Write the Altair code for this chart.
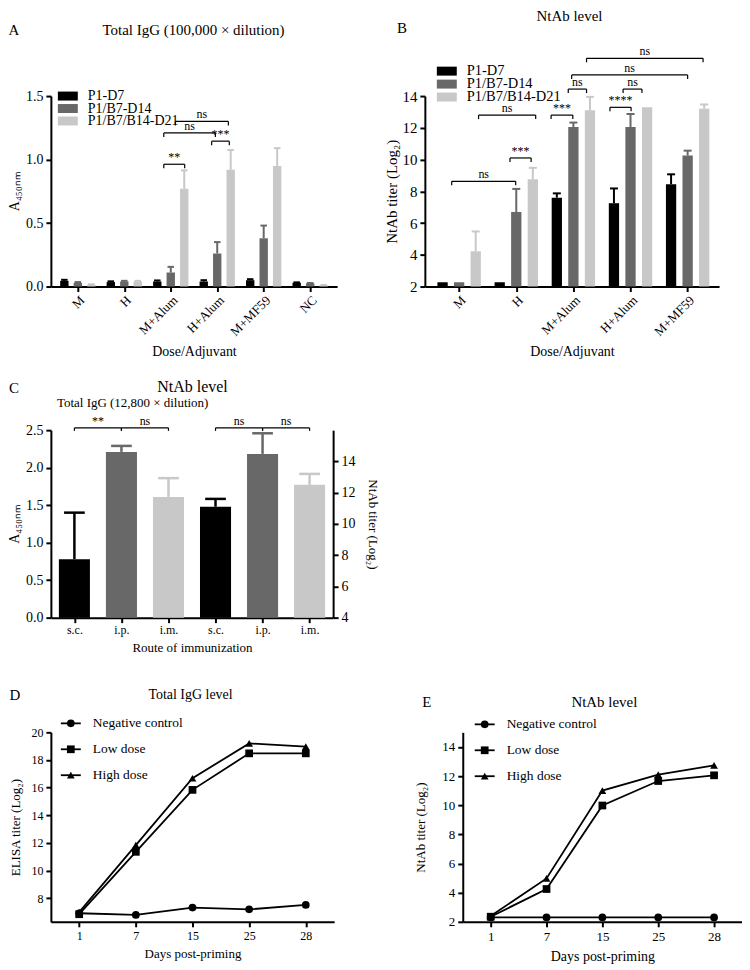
import json
import altair as alt
import pandas as pd

FONT = "Liberation Serif"
BLACK, DARK, LIGHT = "#000000", "#686868", "#c8c8c8"

# ---------------- data ----------------
series_names = ["P1-D7", "P1/B7-D14", "P1/B7/B14-D21"]
series_colors = [BLACK, DARK, LIGHT]

# Panel A: Total IgG (100,000 x dilution), A450nm
a_groups = ["M", "H", "M+Alum", "H+Alum", "M+MF59", "NC"]
a_d7 = [0.045, 0.035, 0.04, 0.04, 0.05, 0.03]
a_d7_err = [0.008, 0.006, 0.008, 0.01, 0.008, 0.003]
a_d14 = [0.03, 0.04, 0.11, 0.26, 0.38, 0.025]
a_d14_err = [0.005, 0.005, 0.045, 0.09, 0.10, 0.003]
a_d21 = [0.015, 0.04, 0.77, 0.92, 0.95, 0.01]
a_d21_err = [0.003, 0.005, 0.145, 0.155, 0.14, 0.002]
a_sig_x1 = [1.85, 2.88, 1.85, 2.10]
a_sig_x2 = [2.30, 3.26, 2.96, 3.24]
a_sig_y = [0.963, 1.145, 1.21, 1.30]
a_sig_lab = ["**", "***", "ns", "ns"]

# Panel B: NtAb level (Log2)
b_groups = ["M", "H", "M+Alum", "H+Alum", "M+MF59"]
b_d7 = [2.27, 2.27, 7.6, 7.25, 8.45]
b_d7_err = [0, 0, 0.27, 0.93, 0.62]
b_d14 = [2.27, 6.7, 12.05, 12.05, 10.25]
b_d14_err = [0, 1.45, 0.28, 0.82, 0.31]
b_d21 = [4.22, 8.76, 13.1, 13.3, 13.2]
b_d21_err = [1.25, 0.72, 0.85, 0, 0.27]
b_sig_x1 = [-0.13, 0.34, 0.89, 1.61, 1.91, 1.97, 2.23, 2.64, 2.87]
b_sig_x2 = [0.99, 1.34, 1.26, 1.99, 2.23, 4.0, 4.27, 3.01, 3.2]
b_sig_y = [8.63, 12.8, 10.1, 12.8, 14.44, 15.33, 16.38, 13.29, 14.44]
b_sig_lab = ["ns", "ns", "***", "***", "ns", "ns", "ns", "****", "ns"]

# Panel C: route of immunization
c_routes = ["s.c.", "i.p.", "i.m."]
c_igg = [0.78, 2.21, 1.61]
c_igg_err = [0.62, 0.08, 0.25]
c_ntab = [11.1, 14.48, 12.5]
c_ntab_err = [0.5, 1.32, 0.7]
c_sig_x1 = [0, 1, 3, 4]
c_sig_x2 = [1, 2, 4, 5]
c_sig_y = [2.53, 2.53, 2.53, 2.53]
c_sig_lab = ["**", "ns", "ns", "ns"]

# Panels D / E: time course
days = ["1", "7", "15", "25", "28"]
line_names = ["Negative control", "Low dose", "High dose"]
line_shapes = ["circle", "square", "triangle-up"]
d_nc = [6.92, 6.8, 7.33, 7.2, 7.52]
d_low = [6.85, 11.36, 15.84, 18.48, 18.48]
d_high = [7.0, 11.84, 16.68, 19.2, 18.96]
e_nc = [2.3, 2.3, 2.3, 2.3, 2.3]
e_low = [2.35, 4.25, 9.98, 11.66, 12.05]
e_high = [2.4, 4.98, 11.0, 12.1, 12.73]

OFF, HALF, CAP = 0.29, 0.09, 0.07


def ax(**kw):
    base = dict(domainColor="black", domainWidth=2, tickColor="black", tickWidth=2,
                tickSize=5, labelFont=FONT, titleFont=FONT, labelColor="black",
                titleColor="black", grid=False, titleFontWeight="normal")
    base.update(kw)
    return alt.Axis(**base)


def txt(s, x, y, size, align="center"):
    return alt.Chart(pd.DataFrame({"t": [s]})).mark_text(
        font=FONT, fontSize=size, align=align, baseline="middle", color="black"
    ).encode(text="t:N", x=alt.value(x), y=alt.value(y))


def brackets(x1, x2, y, lab, xs, ys, xa, ya, drop=4, size=12):
    df = pd.DataFrame({"x1": x1, "x2": x2, "y": y, "lab": lab})
    df["xm"] = (df["x1"] + df["x2"]) / 2
    X = lambda f: alt.X(f + ":Q", scale=xs, axis=xa)
    Y = alt.Y("y:Q", scale=ys, axis=ya)
    base = alt.Chart(df)
    h = base.mark_rule(color="black", strokeWidth=1.2).encode(x=X("x1"), x2="x2:Q", y=Y)
    l = base.mark_rule(color="black", strokeWidth=1.2, y2Offset=drop).encode(x=X("x1"), y=Y, y2="y:Q")
    r = base.mark_rule(color="black", strokeWidth=1.2, y2Offset=drop).encode(x=X("x2"), y=Y, y2="y:Q")
    t = base.mark_text(font=FONT, fontSize=size, dy=-7, color="black").encode(x=X("xm"), y=Y, text="lab:N")
    return [h, l, r, t]


def bar_layers(df, xs, ys, xaxis, yaxis):
    col = alt.Color("series:N", scale=alt.Scale(domain=series_names, range=series_colors), legend=None)
    bars = alt.Chart(df).mark_bar().encode(
        x=alt.X("xl:Q", scale=xs, axis=xaxis), x2="xr:Q",
        y=alt.Y("v:Q", scale=ys, axis=yaxis), y2="base:Q", color=col)
    e = df[df["e"] > 0]
    err = alt.Chart(e).mark_rule(strokeWidth=2).encode(
        x=alt.X("xc:Q", scale=xs, axis=xaxis), y=alt.Y("v:Q", scale=ys, axis=yaxis), y2="top:Q", color=col)
    cap = alt.Chart(e).mark_rule(strokeWidth=2).encode(
        x=alt.X("cl:Q", scale=xs, axis=xaxis), x2="cr:Q", y=alt.Y("top:Q", scale=ys, axis=yaxis), color=col)
    return [bars, err, cap]


def grouped_df(groups, vals, errs, base):
    rows = []
    for s in range(3):
        for g in range(len(groups)):
            xc = g + (s - 1) * OFF
            rows.append(dict(series=series_names[s], v=vals[s][g], e=errs[s][g],
                             top=vals[s][g] + errs[s][g], xc=xc, xl=xc - HALF, xr=xc + HALF,
                             cl=xc - CAP, cr=xc + CAP, base=base))
    return pd.DataFrame(rows)


def bar_legend(x0, ys_px, size):
    out = []
    for name, c, yy in zip(series_names, series_colors, ys_px):
        out.append(alt.Chart(pd.DataFrame({"n": [name]})).mark_rect(color=c).encode(
            x=alt.value(x0), x2=alt.value(x0 + 20), y=alt.value(yy - 4.5), y2=alt.value(yy + 4.5)))
        out.append(txt(name, x0 + 30, yy, size, align="left"))
    return out


def label_expr(labels):
    return json.dumps(labels) + "[datum.value]"


# ---------------- Panel A ----------------
WA, HA = 287, 191
dfA = grouped_df(a_groups, [a_d7, a_d14, a_d21], [a_d7_err, a_d14_err, a_d21_err], 0)
xsA = alt.Scale(domain=[-0.58, 5.58], nice=False, zero=False)
ysA = alt.Scale(domain=[0, 1.5], nice=False, zero=False)
xaxA = ax(values=list(range(len(a_groups))), labelExpr=label_expr(a_groups), labelAngle=-45,
          labelFontSize=13, title="Dose/Adjuvant", titleFontSize=14, titlePadding=6)
yaxA = ax(values=[0, 0.5, 1.0, 1.5], format=".1f", labelFontSize=14, title="A₄₅₀ₙₘ",
          titleFontSize=14, labelPadding=3)
panelA = alt.layer(
    *bar_layers(dfA, xsA, ysA, xaxA, yaxA),
    *brackets(a_sig_x1, a_sig_x2, a_sig_y, a_sig_lab, xsA, ysA, xaxA, yaxA, drop=4, size=12),
    *bar_legend(7, [0, 12.5, 25], 14),
    txt("A", -37, -66, 15),
    txt("Total  IgG (100,000 × dilution)", 143, -66, 15),
).properties(width=WA, height=HA)

# ---------------- Panel B ----------------
WB, HB = 295, 191
dfB = grouped_df(b_groups, [b_d7, b_d14, b_d21], [b_d7_err, b_d14_err, b_d21_err], 2)
xsB = alt.Scale(domain=[-0.6, 4.55], nice=False, zero=False)
ysB = alt.Scale(domain=[2, 14], nice=False, zero=False)
xaxB = ax(values=list(range(len(b_groups))), labelExpr=label_expr(b_groups), labelAngle=-45,
          labelFontSize=13, title="Dose/Adjuvant", titleFontSize=14, titlePadding=6)
yaxB = ax(values=[2, 4, 6, 8, 10, 12, 14], labelFontSize=15, title="NtAb titer (Log₂)",
          titleFontSize=15, labelPadding=3, titlePadding=2)
panelB = alt.layer(
    *bar_layers(dfB, xsB, ysB, xaxB, yaxB),
    *brackets(b_sig_x1, b_sig_x2, b_sig_y, b_sig_lab, xsB, ysB, xaxB, yaxB, drop=4, size=12),
    *bar_legend(12, [-25, -12, 1], 14.5),
    txt("B", -23, -68, 15),
    txt("NtAb level", 145, -80, 15),
).properties(width=WB, height=HB)

# ---------------- Panel C ----------------
WC, HC = 283, 188
xsC = alt.Scale(domain=[-0.5, 5.5], nice=False, zero=False)
ysCL = alt.Scale(domain=[0, 2.5], nice=False, zero=False)
ysCR = alt.Scale(domain=[4, 16], nice=False, zero=False)
dfCL = pd.DataFrame({"x": [0, 1, 2], "v": c_igg, "e": c_igg_err, "c": series_names})
dfCR = pd.DataFrame({"x": [3, 4, 5], "v": c_ntab, "e": c_ntab_err, "c": series_names})
c_labels = c_routes + c_routes
colC = alt.Color("c:N", scale=alt.Scale(domain=series_names, range=series_colors), legend=None)


def c_layers(df, ys, yaxis, xaxis, base):
    df = df.copy()
    df["xl"], df["xr"] = df["x"] - 0.33, df["x"] + 0.33
    df["cl"], df["cr"] = df["x"] - 0.22, df["x"] + 0.22
    df["top"] = df["v"] + df["e"]
    df["base"] = base
    bars = alt.Chart(df).mark_bar().encode(
        x=alt.X("xl:Q", scale=xsC, axis=xaxis), x2="xr:Q",
        y=alt.Y("v:Q", scale=ys, axis=yaxis), y2="base:Q", color=colC)
    err = alt.Chart(df).mark_rule(strokeWidth=2.5).encode(
        x=alt.X("x:Q", scale=xsC, axis=xaxis), y=alt.Y("v:Q", scale=ys, axis=yaxis), y2="top:Q", color=colC)
    cap = alt.Chart(df).mark_rule(strokeWidth=2.5).encode(
        x=alt.X("cl:Q", scale=xsC, axis=xaxis), x2="cr:Q", y=alt.Y("top:Q", scale=ys, axis=yaxis), color=colC)
    return [bars, err, cap]


xaxC = ax(values=list(range(6)), labelExpr=label_expr(c_labels), labelAngle=0, labelFontSize=12,
          title="Route of immunization", titleFontSize=13, titlePadding=6)
yaxCL = ax(values=[0, 0.5, 1.0, 1.5, 2.0, 2.5], format=".1f", labelFontSize=14,
           title="A₄₅₀ₙₘ", titleFontSize=14, labelPadding=3)
yaxCR = ax(orient="right", values=[4, 6, 8, 10, 12, 14], labelFontSize=14,
           title="NtAb titer (Log₂)", titleFontSize=13, labelPadding=3, titlePadding=10)
leftC = alt.layer(
    *c_layers(dfCL, ysCL, yaxCL, xaxC, 0),
    *brackets(c_sig_x1, c_sig_x2, c_sig_y, c_sig_lab, xsC, ysCL, xaxC, yaxCL, drop=3, size=12),
    txt("C", -37, -42, 15),
    txt("NtAb level", 142, -43, 16),
    txt("Total  IgG (12,800 × dilution)", 82, -27, 13),
)
rightC = alt.layer(*c_layers(dfCR, ysCR, yaxCR, xaxC, 4))
panelC = alt.layer(leftC, rightC).resolve_scale(y="independent").properties(width=WC, height=HC)


# ---------------- Panels D / E ----------------
def line_panel(vals, ydom, yvals, ytitle, w, h, letter, title, tpos, lpos, lab_size, tick_size,
               leg_size, title_size, xt_size, ytpad):
    rows = []
    for name, vv in zip(line_names, vals):
        for d, v in zip(days, vv):
            rows.append(dict(series=name, day=d, v=v))
    df = pd.DataFrame(rows)
    xs = alt.X("day:O", sort=days, scale=alt.Scale(type="point", padding=0.5),
               axis=ax(labelAngle=0, labelFontSize=tick_size, title="Days post-priming",
                       titleFontSize=xt_size, titlePadding=6, labelPadding=4))
    ys = alt.Y("v:Q", scale=alt.Scale(domain=ydom, nice=False, zero=False),
               axis=ax(values=yvals, labelFontSize=tick_size, title=ytitle, titleFontSize=lab_size,
                       labelPadding=3, titlePadding=ytpad))
    lines = alt.Chart(df).mark_line(color="black", strokeWidth=1.8).encode(x=xs, y=ys, detail="series:N")
    pts = alt.Chart(df).mark_point(filled=True, color="black", opacity=1, size=60).encode(
        x=xs, y=ys,
        shape=alt.Shape("series:N", scale=alt.Scale(domain=line_names, range=line_shapes), legend=None))
    layers = [lines, pts]
    lx, ly = lpos
    for i, (name, shp) in enumerate(zip(line_names, line_shapes)):
        yy = ly + i * 26
        one = alt.Chart(pd.DataFrame({"n": [name]}))
        layers.append(one.mark_rule(color="black", strokeWidth=1.8).encode(
            x=alt.value(lx), x2=alt.value(lx + 20), y=alt.value(yy)))
        layers.append(one.mark_point(shape=shp, filled=True, color="black", opacity=1, size=60).encode(
            x=alt.value(lx + 10), y=alt.value(yy)))
        layers.append(txt(name, lx + 32, yy, leg_size, align="left"))
    layers.append(txt(letter, tpos[0], tpos[1], 15))
    layers.append(txt(title, tpos[2], tpos[1], title_size))
    return alt.layer(*layers).properties(width=w, height=h)


panelD = line_panel([d_nc, d_low, d_high], [6.3, 20], [8, 10, 12, 14, 16, 18, 20],
                    "ELISA titer (Log₂)", 284, 190, "D", "Total  IgG level", (-36, -37, 140),
                    (10, -9), 13, 12, 13.5, 14, 13, 8)
panelE = line_panel([e_nc, e_low, e_high], [2, 15], [2, 4, 6, 8, 10, 12, 14],
                    "NtAb titer (Log₂)", 280, 190, "E", "NtAb level", (-36, -30, 142),
                    (12, -8), 13, 13, 13.5, 15, 14, 14)

# nested concat groups count as zero-size in flush layout, so spacing acts as an offset
row1 = alt.hconcat(panelA, panelB, spacing=88, bounds="flush")
row3 = alt.hconcat(panelD, panelE, spacing=129, bounds="flush")
lower = alt.vconcat(panelC, row3, spacing=115, bounds="flush")
chart = alt.vconcat(row1, lower, spacing=335, bounds="flush").properties(
    padding={"left": -1, "top": 0, "right": 0, "bottom": 0}, background="white"
).configure_view(stroke=None)

chart.save("out.html", embed_options={"renderer": "svg", "actions": False})
